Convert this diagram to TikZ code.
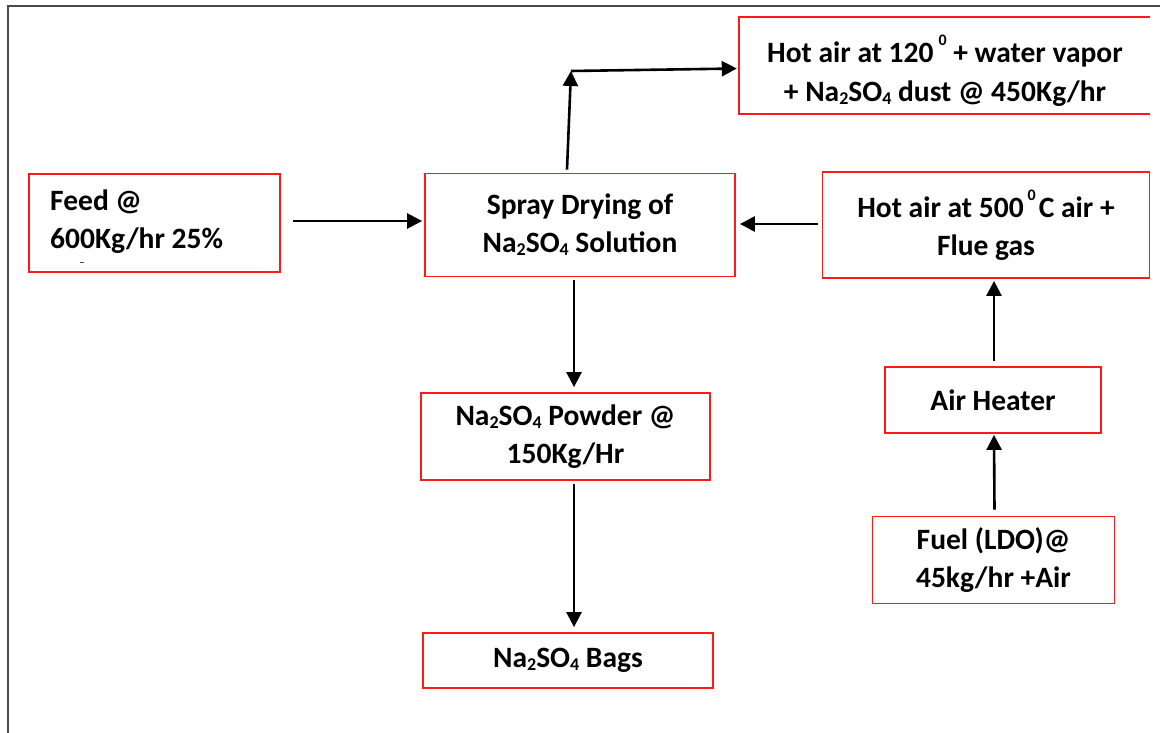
\documentclass[tikz,border=0pt]{standalone}
\usepackage{fontspec}
\setmainfont{Carlito}
\usetikzlibrary{arrows.meta,calc}
\newcommand\degz{\raisebox{17pt}{\fontsize{16}{16}\selectfont 0}}
\newcommand\subn[1]{\raisebox{-3pt}{\fontsize{18}{18}\selectfont #1}}
\definecolor{boxred}{HTML}{FF1A1A}
\definecolor{framegray}{HTML}{4A4A4A}
\tikzset{
  procbox/.style={draw=boxred, line width=1.8pt, rectangle, inner sep=0pt, align=center,
    font=\bfseries\fontsize{29.5}{38}\selectfont},
  openbox/.style={rectangle, inner sep=0pt, align=center,
    font=\bfseries\fontsize{29.5}{39}\selectfont},
  flow/.style={line width=2.6pt, -{Triangle[length=15pt,width=15pt]}},
  framestyle/.style={draw=framegray, line width=2pt},
}
\begin{document}
\begin{tikzpicture}[x=1pt,y=-1pt]
\useasboundingbox (0,0) rectangle (1163,733);
\draw[framestyle] (1160,6) -- (8,6) -- (8,733);

\node[openbox, minimum width=411pt, minimum height=97pt] (top) at (944.5,65.5) {};
\node[openbox] (toptxt) at (945,71)
  {Hot air at 120\hspace{5pt}\degz\ + water vapor\\+ Na\subn2SO\subn4 dust @ 450Kg/hr};
\draw[boxred, line width=1.8pt] (top.north east) -- (top.north west) -- (top.south west) -- (top.south east);

\node[procbox, minimum width=251pt, minimum height=98pt] (feed) at (154.5,223) {};
\node[openbox, anchor=base west] (feedtxt) at (50,211) {Feed @};
\node[openbox, anchor=base west] (feedtxt2) at (50,248) {600Kg/hr 25\%};
\draw[black!70, line width=0.8pt] (80,262) -- (84,262);

\node[procbox, minimum width=310pt, minimum height=103pt] (spray) at (580,225)
  {Spray Drying of\\Na\subn2SO\subn4 Solution};
\node[procbox, minimum width=327pt, minimum height=106pt] (hot) at (986,225)
  {Hot air at 500\hspace{4pt}\degz\hspace{3pt}C air +\\Flue gas};
\node[procbox, minimum width=289pt, minimum height=87pt] (powder) at (565.5,436.5)
  {Na\subn2SO\subn4 Powder @\\150Kg/Hr};
\node[procbox, minimum width=290pt, minimum height=55pt] (bags) at (568,660.5)
  {Na\subn2SO\subn4 Bags};
\node[procbox, minimum width=216pt, minimum height=66pt] (heater) at (993,400)
  {Air Heater};
\node[procbox, minimum width=242pt, minimum height=87pt] (fuel) at (993.5,560)
  {Fuel (LDO)@\\45kg/hr +Air};

\coordinate (c1) at (571,71);
\draw[flow] ([shift={(12,-2)}]feed.east) -- ([shift={(-2,-4)}]spray.west);
\draw[flow] ([shift={(-4,-1)}]hot.west) -- ([shift={(4,-1)}]spray.east);
\draw[flow] ([shift={(-13,-3)}]spray.north) -- (c1);
\draw[flow] (c1) -- ([shift={(-2,3)}]top.west);
\draw[flow] ([shift={(-6,3)}]spray.south) -- ([shift={(8.5,-5)}]powder.north);
\draw[flow] ([shift={(8.5,3)}]powder.south) -- ([shift={(6,-5)}]bags.north);
\draw[flow] ([shift={(1,-6)}]fuel.north) -- ([shift={(1,1)}]heater.south);
\draw[flow] ([shift={(1,-5)}]heater.north) -- ([shift={(8,2)}]hot.south);
\end{tikzpicture}
\end{document}
